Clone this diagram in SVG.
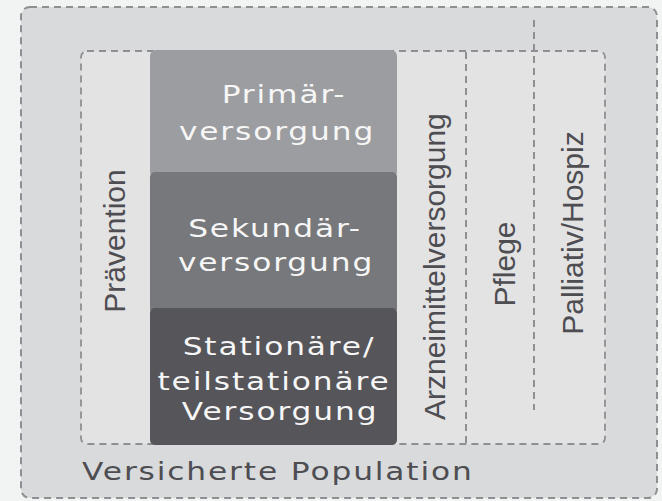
<svg xmlns="http://www.w3.org/2000/svg" width="662" height="501" viewBox="0 0 662 501">
<style>
.dash{fill:none;stroke:#8e8f92;stroke-width:2;stroke-dasharray:7 5}
.ht{font-family:"DejaVu Sans",sans-serif;font-size:25px;fill:#f6f6f6;text-anchor:middle;letter-spacing:1.5px}
.vt{font-family:"Liberation Sans",Arial,sans-serif;font-size:30px;fill:#4d4d52}
.lbl{font-family:"DejaVu Sans",sans-serif;font-size:25px;fill:#4d4d52;letter-spacing:1.5px}
</style>
<rect x="0" y="0" width="662" height="501" fill="#f2f3f3"/>
<g id="population">
<rect x="21" y="7" width="636" height="491" rx="9" class="dash" style="fill:#d9dadc"/>
<text class="lbl" transform="translate(82,480) scale(1.25,1)" x="0" y="0">Versicherte Population</text>
</g>
<g id="versorgung">
<rect x="81" y="51" width="524" height="393" rx="6" class="dash" style="fill:#e3e3e3;stroke-width:1.8"/>
</g>
<g id="primaer">
<rect x="150" y="50" width="247" height="128" rx="6" fill="#9c9da0"/>
<text class="ht" transform="translate(284,103) scale(1.25,1)">Primär-</text>
<text class="ht" transform="translate(277,140) scale(1.25,1)">versorgung</text>
</g>
<g id="sekundaer">
<rect x="150" y="172" width="247" height="142" rx="5" fill="#77787b"/>
<text class="ht" transform="translate(275,237) scale(1.25,1)">Sekundär-</text>
<text class="ht" transform="translate(276,271) scale(1.25,1)">versorgung</text>
</g>
<g id="stationaer">
<rect x="150" y="308" width="247" height="137" rx="5" fill="#55555a"/>
<text class="ht" transform="translate(279,355) scale(1.25,1)">Stationäre/</text>
<text class="ht" transform="translate(274,390) scale(1.25,1)">teilstationäre</text>
<text class="ht" transform="translate(280,420) scale(1.25,1)">Versorgung</text>
</g>
<g id="praevention">
<text class="vt" transform="translate(125,241) rotate(-90)" text-anchor="middle">Prävention</text>
</g>
<g id="arzneimittel">
<text class="vt" transform="translate(445,420) rotate(-90)">Arzneimittelversorgung</text>
</g>
<g id="pflege">
<text class="vt" transform="translate(515,264) rotate(-90)" text-anchor="middle">Pflege</text>
</g>
<g id="palliativ">
<text class="vt" transform="translate(583,233) rotate(-90)" text-anchor="middle">Palliativ/Hospiz</text>
</g>
<g id="connectors">
<line class="dash" x1="466" y1="52" x2="466" y2="444"/>
<line class="dash" x1="534" y1="20" x2="534" y2="410"/>
</g>
</svg>
